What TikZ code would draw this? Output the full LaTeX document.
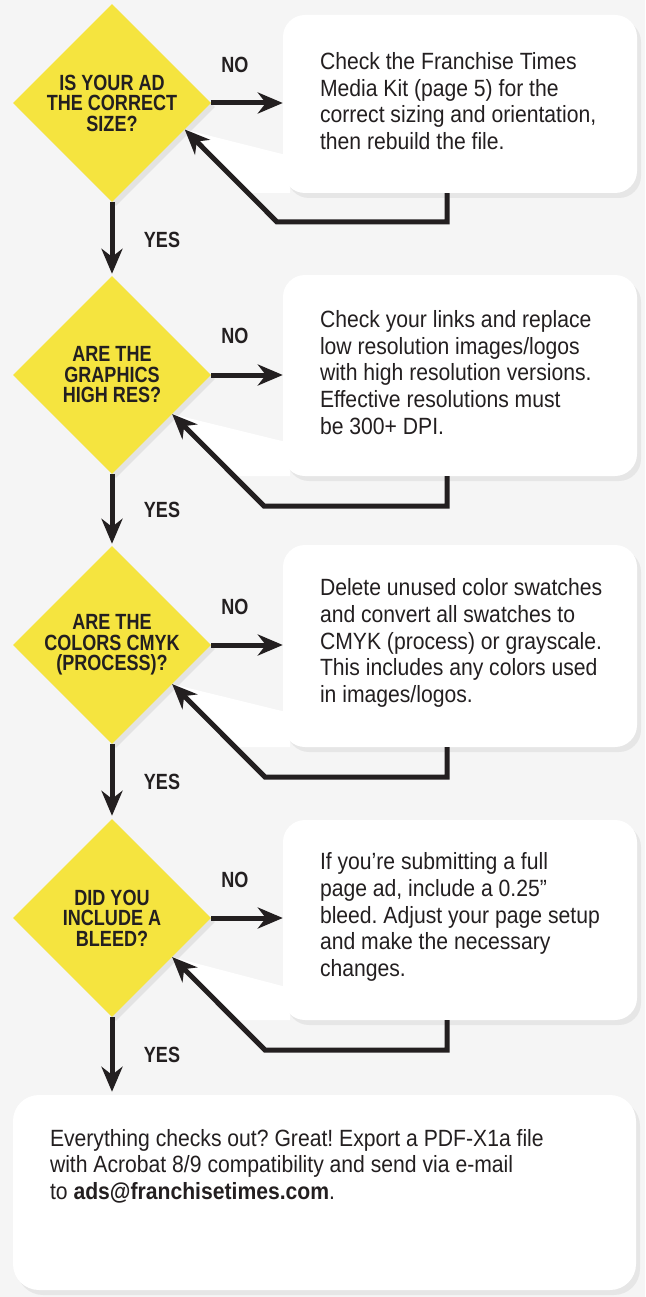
\documentclass[tikz,border=0pt]{standalone}
\usepackage{fontspec}
\setmainfont{Liberation Sans}[FakeStretch=0.9]
\newfontfamily\capsfont{Liberation Sans}[FakeStretch=0.82]
\usepackage{xcolor}
\usepackage{tikz}
\usetikzlibrary{arrows.meta,shapes.geometric,shadows,positioning}
\definecolor{bggray}{HTML}{F5F5F5}
\definecolor{adyellow}{HTML}{F5E43F}
\definecolor{inkblack}{HTML}{231F20}
\frenchspacing

\begin{document}
\begin{tikzpicture}[x=1pt,y=-1pt,
  question/.style={diamond, fill=adyellow, minimum width=198pt, minimum height=198pt,
    inner sep=0pt, align=center, text=inkblack,
    font=\capsfont\bfseries\fontsize{22}{20.5}\selectfont,
    drop shadow={opacity=0.15, shadow xshift=4pt, shadow yshift=-4pt}},
  card/.style={rectangle, rounded corners=22pt, fill=white, minimum width=354pt,
    drop shadow={opacity=0.12, shadow xshift=4pt, shadow yshift=-5pt}},
  cardtext/.style={align=left, inner sep=0pt, text=inkblack,
    font=\fontsize{23.5}{26.7}\selectfont},
  answer/.style={text=inkblack, font=\capsfont\bfseries\fontsize{22}{22}\selectfont},
  flow/.style={draw=inkblack, line width=5pt, line join=miter,
    -{Stealth[length=25pt,width=21pt,inset=8pt]}},
  glare/.style={fill=white}]
\fill[bggray] (0,0) rectangle (645,1297);
\useasboundingbox (0,0) rectangle (645,1297);

% questions
\node[question] (d1) at (112,103) {IS YOUR AD\\THE CORRECT\\SIZE?};
\node[question] (d2) at (112,375) {ARE THE\\GRAPHICS\\HIGH RES?};
\node[question] (d3) at (112,645) {ARE THE\\COLORS CMYK\\(PROCESS)?};
\node[question] (d4) at (112,918) {DID YOU\\INCLUDE A\\BLEED?};

% light behind the return arrows
\fill[glare] (d1.-20) -- (290,156) -- (290,193) -- (249,193) -- cycle;
\fill[glare] (d2.-33) -- (290,443) -- (290,476) -- (233,476) -- cycle;
\fill[glare] (d3.-33) -- (290,713) -- (290,747) -- (235,747) -- cycle;
\fill[glare] (d4.-33) -- (290,988) -- (290,1020) -- (233,1020) -- cycle;

% cards
\node[card, minimum height=178pt] (c1) at (460,104) {};
\node[card, minimum height=201pt] (c2) at (460,375.5) {};
\node[card, minimum height=202pt] (c3) at (460,646) {};
\node[card, minimum height=200pt] (c4) at (460,920) {};
\node[card, minimum width=623pt, minimum height=195pt, rounded corners=26pt] (fin) at (324.5,1192.5) {};

\node[cardtext, right=37pt of c1.west, yshift=3pt] (t1) {Check the Franchise Times\\Media Kit (page 5) for the\\correct sizing and orientation,\\then rebuild the file.};
\node[cardtext, right=37pt of c2.west, yshift=3pt] (t2) {Check your links and replace\\low resolution images/logos\\with high resolution versions.\\Effective resolutions must\\be 300+ DPI.};
\node[cardtext, right=37pt of c3.west, yshift=3pt] (t3) {Delete unused color swatches\\and convert all swatches to\\CMYK (process) or grayscale.\\This includes any colors used\\in images/logos.};
\node[cardtext, right=37pt of c4.west, yshift=3pt] (t4) {If you’re submitting a full\\page ad, include a 0.25”\\bleed. Adjust your page setup\\and make the necessary\\changes.};
\node[cardtext, below right=34pt and 37pt of fin.north west] (tf) {Everything checks out? Great! Export a PDF-X1a file\\with Acrobat 8/9 compatibility and send via e-mail\\to \textbf{ads@franchisetimes.com}.};

% bends of the return arrows
\coordinate (r1) at (277,222);
\coordinate (r2) at (264,506);
\coordinate (r3) at (265,777);
\coordinate (r4) at (265,1050);

% arrows
\draw[flow] (d1.east) -- (c1.west |- d1.east);
\draw[flow] (d2.east) -- (c2.west |- d2.east);
\draw[flow] (d3.east) -- (c3.west |- d3.east);
\draw[flow] (d4.east) -- (c4.west |- d4.east);
\draw[flow] ([xshift=-13pt]c1.south) |- (r1) -- (d1.-20);
\draw[flow] ([xshift=-13pt]c2.south) |- (r2) -- (d2.-33);
\draw[flow] ([xshift=-13pt]c3.south) |- (r3) -- (d3.-33);
\draw[flow] ([xshift=-13pt]c4.south) |- (r4) -- (d4.-33);
\draw[flow] (d1.south) -- ([yshift=2pt]d2.north);
\draw[flow] (d2.south) -- ([yshift=2pt]d3.north);
\draw[flow] (d3.south) -- ([yshift=3pt]d4.north);
\draw[flow] (d4.south) -- ([yshift=3pt]fin.north -| d4.south);

% labels
\node[answer] (no1) at (235,65) {NO};
\node[answer] (no2) at (235,336) {NO};
\node[answer] (no3) at (235,607) {NO};
\node[answer] (no4) at (235,880) {NO};
\node[answer] (yes1) at (162,240) {YES};
\node[answer] (yes2) at (162,510) {YES};
\node[answer] (yes3) at (162,782) {YES};
\node[answer] (yes4) at (162,1055) {YES};
\end{tikzpicture}
\end{document}
